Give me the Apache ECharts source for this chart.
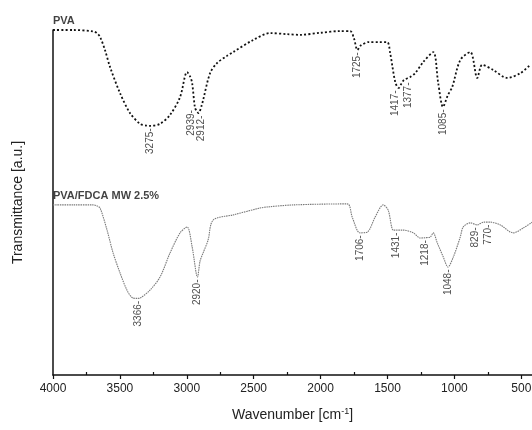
<!DOCTYPE html>
<html>
<head>
<meta charset="utf-8">
<script src="https://cdn.jsdelivr.net/npm/echarts@6/dist/echarts.min.js"></script>
<style>
  html, body { margin: 0; padding: 0; background: #ffffff; }
  #chart { width: 532px; height: 430px; }
</style>
</head>
<body>
<div id="chart"></div>
<script>
// Axis ticks (wavenumber, cm^-1)
const tickLabels = [4000, 3500, 3000, 2500, 2000, 1500, 1000, 500];
const minorTicks = [3750, 3250, 2750, 2250, 1750, 1250, 750];

// FTIR spectra: [wavenumber, transmittance (a.u., offset stacked)]
const pvaSpectrum = [
  [4000, 100], [3850, 100], [3700, 99.6], [3671, 99.1], [3648, 98.0], [3610, 94.0],
  [3574, 89.3], [3499, 81.7], [3424, 75.9], [3349, 72.8], [3300, 72.3], [3275, 72.2],
  [3200, 72.8], [3125, 75.4], [3050, 80.6], [2998, 87.8], [2975, 86.5], [2960, 84.6],
  [2939, 77.5], [2925, 76.5], [2912, 75.9], [2890, 78.0], [2878, 79.7], [2826, 87.5],
  [2774, 90.4], [2700, 92.5], [2654, 93.6], [2504, 97.1], [2377, 99.1], [2250, 98.8],
  [2153, 98.6], [2000, 99.2], [1850, 99.7], [1779, 99.7], [1750, 97.5], [1725, 94.2],
  [1700, 95.5], [1640, 96.5], [1560, 96.5], [1502, 96.5], [1480, 93.3], [1442, 84.9],
  [1417, 83.2], [1395, 84.5], [1377, 85.5], [1330, 86.4], [1293, 87.5], [1233, 90.7],
  [1158, 93.6], [1121, 84.6], [1085, 77.7], [1050, 81.0], [1016, 83.5], [956, 91.3],
  [881, 93.6], [829, 86.1], [792, 89.9], [709, 88.4], [605, 86.1], [507, 87.5], [433, 89.9]
];

const pvaFdcaSpectrum = [
  [4000, 49.3], [3850, 49.3], [3700, 49.3], [3671, 49.0], [3648, 48.4], [3596, 42.0],
  [3551, 35.4], [3499, 29.6], [3447, 24.6], [3402, 22.3], [3366, 22.2], [3349, 22.3],
  [3275, 24.6], [3200, 28.4], [3125, 35.4], [3050, 41.2], [2998, 42.9], [2960, 37.1],
  [2920, 28.4], [2901, 33.0], [2878, 35.4], [2841, 39.1], [2803, 44.9], [2654, 46.4],
  [2452, 48.4], [2400, 48.7], [2205, 49.3], [1801, 49.6], [1764, 45.8], [1706, 41.2],
  [1652, 41.4], [1592, 45.8], [1532, 49.3], [1495, 47.8], [1457, 42.0], [1431, 42.0],
  [1382, 42.0], [1307, 41.2], [1255, 39.7], [1218, 39.8], [1180, 40.0], [1158, 41.2],
  [1128, 38.3], [1083, 34.2], [1048, 31.3], [1008, 34.2], [956, 40.0], [934, 42.9],
  [881, 44.1], [829, 43.5], [784, 44.3], [732, 44.3], [657, 43.5], [560, 41.2],
  [485, 42.6], [418, 44.3]
];

// Annotated band positions
const pvaPeaks = [3275, 2939, 2912, 1725, 1417, 1377, 1085];
const pvaFdcaPeaks = [3366, 2920, 1706, 1431, 1218, 1048, 829, 770];

// Sideways nudges (px) so that close band labels don't collide
const pvaNudge = { 2939: -4, 2912: 3, 1417: -3, 1377: 4 };
const pvaFdcaNudge = { 829: -2, 770: 3 };

// Linear interpolation of a spectrum at a given wavenumber
function valueAt(spec, wn) {
  for (let i = 0; i < spec.length - 1; i++) {
    const [x0, y0] = spec[i], [x1, y1] = spec[i + 1];
    if ((wn <= x0 && wn >= x1) || (wn >= x0 && wn <= x1)) {
      const t = x1 === x0 ? 0 : (wn - x0) / (x1 - x0);
      return y0 + t * (y1 - y0);
    }
  }
  return spec[spec.length - 1][1];
}

const FONT = '"Liberation Sans", Arial, sans-serif';

function peakSeries(spec, peaks, nudge) {
  return {
    type: 'scatter',
    symbolSize: 1,
    itemStyle: { color: 'rgba(0,0,0,0)' },
    silent: true,
    z: 5,
    data: peaks.map(wn => ({
      value: [wn, valueAt(spec, wn)],
      label: { offset: [0, nudge[wn] || 0] }
    })),
    label: {
      show: true,
      position: 'bottom',
      distance: 2,
      rotate: 90,
      align: 'right',
      verticalAlign: 'middle',
      formatter: p => p.value[0] + '-',
      fontFamily: FONT,
      fontSize: 10,
      color: '#222'
    }
  };
}

function nameSeries(spec, text) {
  return {
    type: 'scatter',
    symbolSize: 1,
    itemStyle: { color: 'rgba(0,0,0,0)' },
    silent: true,
    data: [spec[0]],
    label: {
      show: true,
      position: 'top',
      distance: 3,
      align: 'left',
      formatter: text,
      fontFamily: FONT,
      fontSize: 11,
      fontWeight: 'bold',
      color: '#111'
    }
  };
}

const chart = echarts.init(document.getElementById('chart'), null, { renderer: 'canvas' });

chart.setOption({
  backgroundColor: '#ffffff',
  animation: false,
  grid: { left: 53, right: 0, top: 30, bottom: 55, containLabel: false, outerBoundsMode: 'none' },
  xAxis: [
    {
      type: 'value',
      inverse: true,
      min: 420,
      max: 4000,
      name: 'Wavenumber [cm{sup|-1}]',
      nameLocation: 'middle',
      nameGap: 32,
      nameTextStyle: {
        fontFamily: FONT, fontSize: 14, color: '#222',
        rich: { sup: { fontFamily: FONT, fontSize: 9, color: '#222', verticalAlign: 'top', padding: [0, 0, 8, 0] } }
      },
      axisLine: { show: true, lineStyle: { color: '#111', width: 1.5 } },
      axisTick: { show: true, inside: false, length: 4, customValues: tickLabels, lineStyle: { color: '#111', width: 1.2 } },
      axisLabel: { show: true, customValues: tickLabels, margin: 8, formatter: v => String(v), fontFamily: FONT, fontSize: 12, color: '#222' },
      splitLine: { show: false }
    },
    {
      type: 'value',
      inverse: true,
      min: 420,
      max: 4000,
      position: 'bottom',
      axisLine: { show: false },
      axisTick: { show: true, inside: true, length: 3, customValues: minorTicks, lineStyle: { color: '#111', width: 1.2 } },
      axisLabel: { show: false },
      splitLine: { show: false }
    }
  ],
  yAxis: {
    type: 'value',
    min: 0,
    max: 100,
    name: 'Transmittance [a.u.]',
    nameLocation: 'middle',
    nameGap: 28,
    nameTextStyle: { fontFamily: FONT, fontSize: 14, color: '#222' },
    axisLine: { show: true, lineStyle: { color: '#111', width: 1.5 } },
    axisTick: { show: false },
    axisLabel: { show: false },
    splitLine: { show: false }
  },
  series: [
    {
      name: 'PVA',
      type: 'line',
      data: pvaSpectrum,
      showSymbol: false,
      smooth: 0.3,
      lineStyle: { color: '#111', width: 1.8, type: [2, 2.2] },
      z: 3
    },
    {
      name: 'PVA/FDCA MW 2.5%',
      type: 'line',
      data: pvaFdcaSpectrum,
      showSymbol: false,
      smooth: 0.3,
      lineStyle: { color: '#7a7a7a', width: 1.1, type: [1.5, 0.8] },
      z: 3
    },
    nameSeries(pvaSpectrum, 'PVA'),
    nameSeries(pvaFdcaSpectrum, 'PVA/FDCA MW 2.5%'),
    peakSeries(pvaSpectrum, pvaPeaks, pvaNudge),
    peakSeries(pvaFdcaSpectrum, pvaFdcaPeaks, pvaFdcaNudge)
  ]
});
</script>
</body>
</html>
